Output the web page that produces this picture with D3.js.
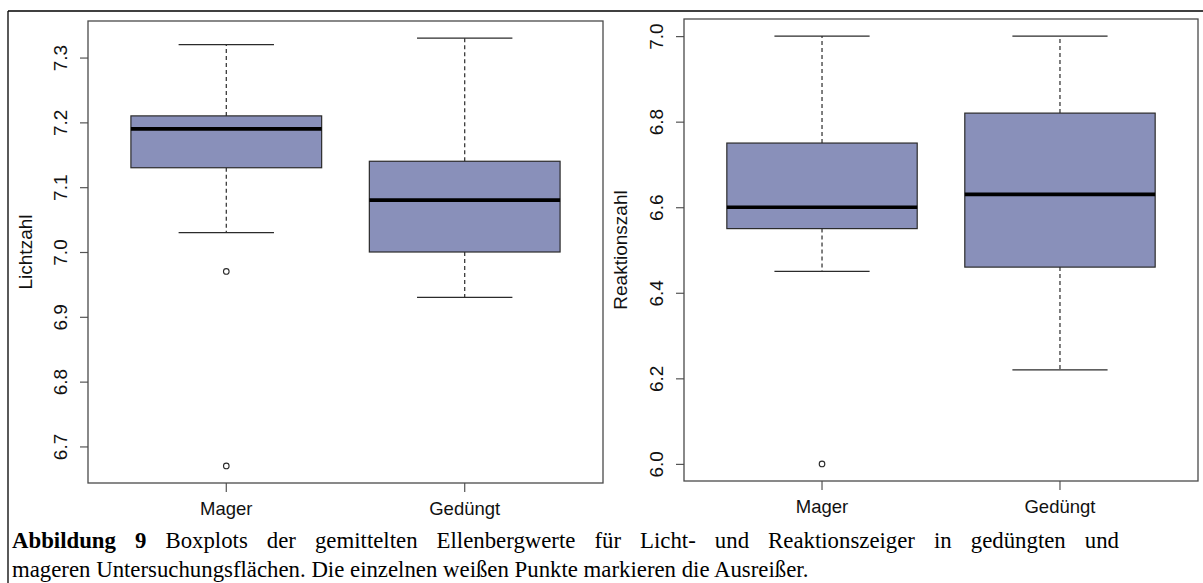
<!DOCTYPE html>
<html>
<head>
<meta charset="utf-8">
<script src="https://cdn.jsdelivr.net/npm/d3@7"></script>
<style>
  html, body { margin: 0; padding: 0; background: #fff; }
  svg { display: block; }
  .tick text, .lab { font-family: Arial, "Liberation Sans", sans-serif; fill: #111; }
  .cap { font-family: "Liberation Serif", "Times New Roman", serif; fill: #000; }
</style>
</head>
<body>
<div id="chart"></div>
<script>
/*
  Boxplots Licht- und Reaktionszahl (Mager / Gedüngt)
  - zwei Panels im R-Stil, mit D3 gezeichnet
*/

// Gruppen
const groups = ['Mager', 'Gedüngt'];

// Lichtzahl
const lichtWhiskerLow = [7.03, 6.93];
const lichtQ1 = [7.13, 7.00];
const lichtMedian = [7.19, 7.08];
const lichtQ3 = [7.21, 7.14];
const lichtWhiskerHigh = [7.32, 7.33];
const lichtOutliers = [[6.97, 6.67], []];
const lichtTicks = [6.7, 6.8, 6.9, 7.0, 7.1, 7.2, 7.3];

// Reaktionszahl
const reakWhiskerLow = [6.45, 6.22];
const reakQ1 = [6.55, 6.46];
const reakMedian = [6.60, 6.63];
const reakQ3 = [6.75, 6.82];
const reakWhiskerHigh = [7.00, 7.00];
const reakOutliers = [[6.00], []];
const reakTicks = [6.0, 6.2, 6.4, 6.6, 6.8, 7.0];

const captionBold = 'Abbildung 9';
const captionLine1 = ' Boxplots der gemittelten Ellenbergwerte für Licht- und Reaktionszeiger in gedüngten und';
const captionLine2 = 'mageren Untersuchungsflächen. Die einzelnen weißen Punkte markieren die Ausreißer.';

const W = 1203, H = 583;
const BOX_FILL = '#8990ba';
const INK = '#2b2b2b';

const svg = d3.select('#chart').append('svg')
  .attr('width', W).attr('height', H)
  .attr('viewBox', `0 0 ${W} ${H}`);

// äußerer Rahmen (nur oben und links sichtbar)
svg.append('line').attr('x1', 8).attr('y1', 11).attr('x2', W).attr('y2', 11)
  .attr('stroke', '#000').attr('stroke-width', 1.3);
svg.append('line').attr('x1', 8).attr('y1', 11).attr('x2', 8).attr('y2', H)
  .attr('stroke', '#000').attr('stroke-width', 1.3);

function drawPanel(p) {
  const g = svg.append('g');
  const all = [].concat(p.lo, p.hi, ...p.out);
  const [mn, mx] = d3.extent(all);
  const pad = (mx - mn) * 0.04; // R: yaxs="r"
  const y = d3.scaleLinear().domain([mn - pad, mx + pad]).range([p.bottom, p.top]);
  const x = d3.scaleLinear().domain([0.42, 2.58]).range([p.left, p.right]);
  const halfBox = (x(1.4) - x(1)) ; // boxwex 0.8
  const halfStaple = halfBox / 2;

  // y-Achse
  const yAxis = d3.axisLeft(y).tickValues(p.ticks).tickFormat(d3.format('.1f')).tickSize(8).tickSizeOuter(0);
  const ya = g.append('g').attr('transform', `translate(${p.left},0)`).call(yAxis);
  ya.select('.domain').remove();
  ya.selectAll('.tick line').attr('stroke', '#555').attr('stroke-width', 1.2);
  ya.selectAll('.tick text')
    .attr('x', null).attr('dy', '0.35em')
    .attr('transform', 'translate(-28,0) rotate(-90)')
    .attr('text-anchor', 'middle')
    .style('font-size', '19px');

  // x-Achse (nur Ticks)
  g.selectAll('line.xt').data(groups).enter().append('line')
    .attr('x1', (d, i) => x(i + 1)).attr('x2', (d, i) => x(i + 1))
    .attr('y1', p.bottom).attr('y2', p.bottom + 9)
    .attr('stroke', '#555').attr('stroke-width', 1.2);
  g.selectAll('text.xl').data(groups).enter().append('text')
    .attr('class', 'lab')
    .attr('x', (d, i) => x(i + 1)).attr('y', p.bottom + 32)
    .attr('text-anchor', 'middle')
    .style('font-size', '18.5px')
    .text((d) => d);

  // Achsentitel
  g.append('text').attr('class', 'lab')
    .attr('transform', `translate(${p.titleX},${(p.top + p.bottom) / 2}) rotate(-90)`)
    .attr('dy', '0.35em').attr('text-anchor', 'middle')
    .style('font-size', '19px')
    .text(p.title);

  const boxes = g.selectAll('g.box').data(groups).enter().append('g').attr('class', 'box');

  // Whisker gestrichelt
  boxes.append('line')
    .attr('x1', (d, i) => x(i + 1)).attr('x2', (d, i) => x(i + 1))
    .attr('y1', (d, i) => y(p.q3[i])).attr('y2', (d, i) => y(p.hi[i]))
    .attr('stroke', INK).attr('stroke-dasharray', '4,3').attr('stroke-width', 1.2);
  boxes.append('line')
    .attr('x1', (d, i) => x(i + 1)).attr('x2', (d, i) => x(i + 1))
    .attr('y1', (d, i) => y(p.q1[i])).attr('y2', (d, i) => y(p.lo[i]))
    .attr('stroke', INK).attr('stroke-dasharray', '4,3').attr('stroke-width', 1.2);
  // Staples
  boxes.append('line')
    .attr('x1', (d, i) => x(i + 1) - halfStaple).attr('x2', (d, i) => x(i + 1) + halfStaple)
    .attr('y1', (d, i) => y(p.hi[i])).attr('y2', (d, i) => y(p.hi[i]))
    .attr('stroke', INK).attr('stroke-width', 1.2);
  boxes.append('line')
    .attr('x1', (d, i) => x(i + 1) - halfStaple).attr('x2', (d, i) => x(i + 1) + halfStaple)
    .attr('y1', (d, i) => y(p.lo[i])).attr('y2', (d, i) => y(p.lo[i]))
    .attr('stroke', INK).attr('stroke-width', 1.2);
  // Box
  boxes.append('rect')
    .attr('x', (d, i) => x(i + 1) - halfBox).attr('width', halfBox * 2)
    .attr('y', (d, i) => y(p.q3[i])).attr('height', (d, i) => y(p.q1[i]) - y(p.q3[i]))
    .attr('fill', BOX_FILL).attr('stroke', INK).attr('stroke-width', 1.2);
  // Median
  boxes.append('line')
    .attr('x1', (d, i) => x(i + 1) - halfBox).attr('x2', (d, i) => x(i + 1) + halfBox)
    .attr('y1', (d, i) => y(p.med[i])).attr('y2', (d, i) => y(p.med[i]))
    .attr('stroke', '#000').attr('stroke-width', 3.6);
  // Ausreißer
  boxes.each(function (d, i) {
    d3.select(this).selectAll('circle').data(p.out[i]).enter().append('circle')
      .attr('cx', x(i + 1)).attr('cy', (v) => y(v)).attr('r', 2.8)
      .attr('fill', '#fff').attr('stroke', INK).attr('stroke-width', 1.1);
  });

  // Plotrahmen
  g.append('rect')
    .attr('x', p.left).attr('y', p.top)
    .attr('width', p.right - p.left).attr('height', p.bottom - p.top)
    .attr('fill', 'none').attr('stroke', '#4a4a4a').attr('stroke-width', 1.3);
}

drawPanel({
  left: 88, right: 603, top: 21, bottom: 483, titleX: 25.5,
  title: 'Lichtzahl', ticks: lichtTicks,
  lo: lichtWhiskerLow, q1: lichtQ1, med: lichtMedian, q3: lichtQ3, hi: lichtWhiskerHigh, out: lichtOutliers
});
drawPanel({
  left: 684, right: 1198, top: 19, bottom: 481, titleX: 620.5,
  title: 'Reaktionszahl', ticks: reakTicks,
  lo: reakWhiskerLow, q1: reakQ1, med: reakMedian, q3: reakQ3, hi: reakWhiskerHigh, out: reakOutliers
});

// Bildunterschrift (Blocksatz: erste Zeile bis zur rechten Kante gestreckt)
const CAP_SIZE = '22.8px';
const cap1 = svg.append('text').attr('class', 'cap').attr('x', 12).attr('y', 548).style('font-size', CAP_SIZE);
cap1.append('tspan').attr('font-weight', 'bold').text(captionBold);
cap1.append('tspan').text(captionLine1);
const natural = cap1.node().getComputedTextLength();
const spaces = (captionBold + captionLine1).split(' ').length - 1;
const justifyTo = 1119 - 12;
if (natural < justifyTo) cap1.attr('word-spacing', (justifyTo - natural) / spaces);

svg.append('text').attr('class', 'cap').attr('x', 12).attr('y', 577).style('font-size', CAP_SIZE)
  .text(captionLine2);
</script>
</body>
</html>
